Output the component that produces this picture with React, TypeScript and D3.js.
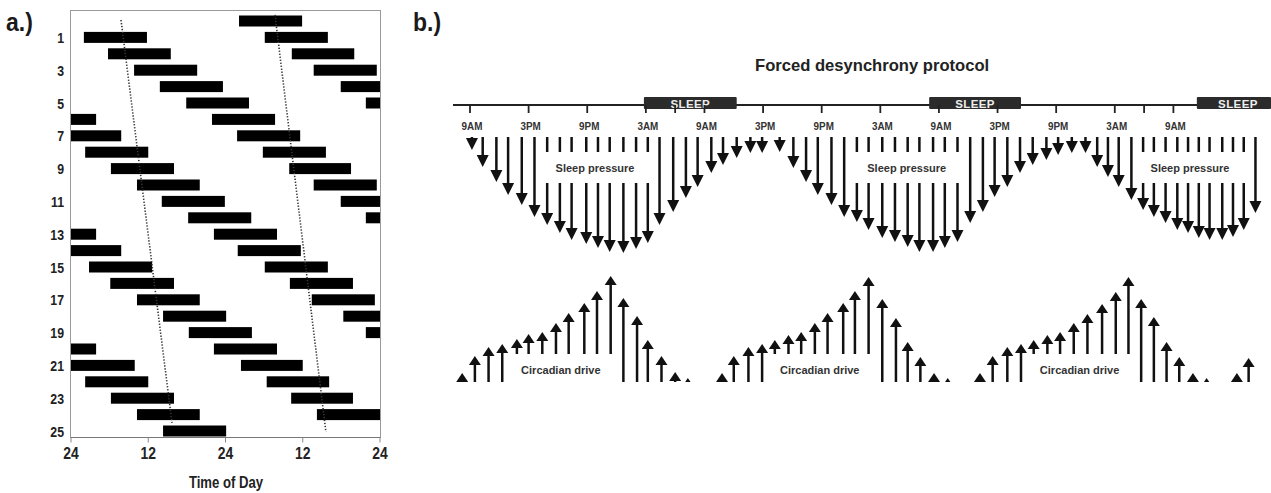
import React from "react";
import * as d3 from "d3";

// ---------- Panel a: double-plotted sleep episodes (hours 0..48 across a row) ----------
const dayLabels = [1, 3, 5, 7, 9, 11, 13, 15, 17, 19, 21, 23, 25];
const timeTickHours = [0, 12, 24, 36, 48];
const timeTickLabels = ["24", "12", "24", "12", "24"];

// each row: list of [start, end] in hours of the 48-h double plot
const rowSleepBars: [number, number][][] = [
  [[26.1, 35.9]],
  [[2.0, 11.8], [30.1, 39.9]],
  [[5.75, 15.5], [34.3, 44.0]],
  [[9.8, 19.6], [37.7, 47.5]],
  [[13.8, 23.6], [41.9, 48]],
  [[17.9, 27.65], [45.8, 48]],
  [[0, 3.9], [21.9, 31.7]],
  [[0, 7.8], [25.8, 35.6]],
  [[2.2, 12.0], [29.8, 39.6]],
  [[6.2, 16.0], [33.9, 43.5]],
  [[10.25, 20.0], [37.7, 47.5]],
  [[14.1, 23.9], [41.9, 48]],
  [[18.2, 28.0], [45.8, 48]],
  [[0, 3.9], [22.2, 32.0]],
  [[0, 7.8], [25.9, 35.7]],
  [[2.8, 12.6], [30.1, 39.9]],
  [[6.1, 16.0], [34.0, 43.8]],
  [[10.25, 20.0], [37.4, 47.2]],
  [[14.3, 24.1], [42.3, 48]],
  [[18.3, 28.1], [45.8, 48]],
  [[0, 3.9], [22.2, 32.0]],
  [[0, 9.9], [26.4, 36.0]],
  [[2.2, 12.0], [30.4, 40.1]],
  [[6.2, 16.0], [34.2, 43.8]],
  [[10.25, 20.0], [38.2, 48]],
  [[14.3, 24.1]],
];

// circadian phase markers: [hour, row] endpoints
const phaseLines: [number, number][][] = [
  [[7.77, -0.06], [15.69, 24.5]],
  [[31.69, -0.37], [39.6, 25.06]],
];

// ---------- Panel b: forced desynchrony protocol ----------
const clockHours = [0, 6, 12, 18, 24, 30, 36, 42, 48, 54, 60, 66, 72];
const clockLabels = ["9AM", "3PM", "9PM", "3AM", "9AM", "3PM", "9PM", "3AM", "9AM", "3PM", "9PM", "3AM", "9AM"];
const extraTickHours = [21, 69];
const sleepEpisodes: [number, number][] = [[17.8, 27.3], [47.0, 56.4], [74.4, 90]];

const pressureHours = [
  0.2, 1.3, 2.7, 3.9, 5.3, 6.6, 7.9, 9.2, 10.4, 11.9, 13.1, 14.3, 15.7, 17.0, 18.2, 19.4,
  20.8, 22.1, 23.3, 24.7, 25.9, 27.3, 28.7, 29.9, 31.7, 33.1, 34.4, 35.6, 37.0, 38.3, 39.6,
  40.8, 42.2, 43.5, 44.8, 46.0, 47.4, 48.6, 49.9, 51.2, 52.5, 53.7, 55.0, 56.3, 57.6, 59.0,
  60.2, 61.6, 63.0, 64.2, 65.3, 66.4, 67.7, 68.9, 70.0, 71.2, 72.4, 73.5, 74.6, 75.7, 77.0,
  78.1, 79.2, 80.4,
];
const pressureValues = [
  13, 30, 45, 58, 68, 80, 88, 96, 103, 107, 111, 115, 116, 112, 106, 88,
  75, 61, 50, 36, 28, 21, 16, 16, 15, 31, 45, 58, 68, 80, 85,
  93, 101, 105, 110, 115, 115, 111, 105, 86, 75, 60, 50, 36, 28, 23,
  18, 16, 16, 30, 40, 50, 63, 73, 80, 86, 93, 96, 101, 103, 103,
  100, 93, 76,
];
const pressureLabelHours = [12.8, 44.7, 73.7];
const pressureLabelSpans: [number, number][] = [[7.5, 18.6], [39.3, 50.2], [68.6, 79.6]];

const drivingHours = [
  -0.8, 0.5, 1.9, 3.3, 4.8, 6.0, 7.4, 8.8, 10.1, 11.7, 13.0, 14.4, 15.7, 17.1, 18.2, 19.6, 21.0, 22.3,
  25.8, 27.0, 28.5, 29.9, 31.2, 32.6, 33.9, 35.3, 36.6, 38.2, 39.4, 40.8, 42.2, 43.6, 44.8, 46.1, 47.5, 48.9,
  52.2, 53.5, 55.0, 56.4, 57.7, 59.1, 60.4, 61.8, 63.2, 64.7, 66.1, 67.4, 68.7, 70.0, 71.3, 72.6, 74.0, 75.4,
  78.5, 79.7,
];
const drivingValues = [
  9, 26, 35, 38, 43, 48, 50, 59, 69, 79, 91, 106, 84, 66, 42, 26, 10, 4,
  9, 26, 35, 38, 42, 47, 50, 59, 69, 79, 91, 105, 83, 64, 40, 25, 9, 4,
  9, 26, 35, 38, 42, 47, 50, 59, 68, 78, 90, 105, 83, 65, 40, 25, 9, 4,
  9, 24,
];
const driveLabelHours = [9.3, 35.8, 62.4];
const driveLabelSpans: [number, number][] = [[4.5, 14.7], [31.0, 41.1], [57.4, 67.7]];

const SANS = "'Liberation Sans', Arial, Helvetica, sans-serif";
const INK = "#111";

// condensed bold text (horizontal squeeze of Liberation Sans Bold)
function NarrowText(props: {
  x: number;
  y: number;
  size: number;
  anchor?: "start" | "middle" | "end";
  squeeze?: number;
  fill?: string;
  children: React.ReactNode;
}) {
  const s = props.squeeze ?? 0.82;
  return (
    <text
      transform={`translate(${props.x},${props.y}) scale(${s},1)`}
      textAnchor={props.anchor ?? "start"}
      fontFamily={SANS}
      fontWeight="bold"
      fontSize={props.size}
      fill={props.fill ?? "#222"}
    >
      {props.children}
    </text>
  );
}

export default function App() {
  // panel a scales
  const xA = d3.scaleLinear().domain([0, 48]).range([71, 380]);
  const yA = d3.scaleLinear().domain([0, 25]).range([21, 431]);
  const barH = 11;
  const frame = { l: 70.5, t: 10.5, r: 380.5, b: 437.5 };

  // panel b scales
  const xB = d3.scaleLinear().domain([0, 72]).range([470, 1173.4]);
  const yP = d3.scaleLinear().domain([0, 120]).range([137, 257]);
  const yC = d3.scaleLinear().domain([0, 120]).range([382, 262]);
  const lineY = 105;
  const phaseLine = d3
    .line<[number, number]>()
    .x((d) => xA(d[0]))
    .y((d) => yA(d[1]));

  const inSpan = (h: number, spans: [number, number][]) => spans.some(([a, b]) => h >= a && h <= b);

  const downArrows = pressureHours.map((h, i) => {
    const x = xB(h);
    const top = yP(0);
    const bottom = yP(pressureValues[i]);
    const headH = 12;
    const headW = 12;
    const broken = inSpan(h, pressureLabelSpans);
    const headTop = Math.max(top, bottom - headH);
    const segs: [number, number][] = [];
    if (headTop > top) {
      if (broken) {
        segs.push([top, 152]);
        segs.push([183, headTop + 1]);
      } else segs.push([top, headTop + 1]);
    }
    const hh = bottom - headTop;
    const w = (headW * hh) / headH;
    return (
      <g key={"d" + i}>
        {segs.map((s, j) => (
          <line key={j} x1={x} x2={x} y1={s[0]} y2={s[1]} stroke={INK} strokeWidth={2.5} />
        ))}
        <path d={`M${x - w / 2},${headTop}L${x + w / 2},${headTop}L${x},${bottom}Z`} fill={INK} />
      </g>
    );
  });

  const upArrows = drivingHours.map((h, i) => {
    const x = xB(h);
    const base = yC(0);
    const top = yC(drivingValues[i]);
    const headH = 9;
    const headW = 12;
    const broken = inSpan(h, driveLabelSpans);
    const headBot = Math.min(base, top + headH);
    const hh = headBot - top;
    const w = (headW * hh) / headH;
    const stemEnd = broken ? 354 : base;
    return (
      <g key={"u" + i}>
        {headBot < base && (
          <line x1={x} x2={x} y1={headBot - 1} y2={stemEnd} stroke={INK} strokeWidth={2.5} />
        )}
        <path d={`M${x - w / 2},${headBot}L${x + w / 2},${headBot}L${x},${top}Z`} fill={INK} />
      </g>
    );
  });

  const allTicks = clockHours.concat(extraTickHours);

  return (
    <svg
      width={1271}
      height={493}
      viewBox="0 0 1271 493"
      style={{ position: "absolute", left: 0, top: 0, background: "#fff" }}
    >
      <rect x={0} y={0} width={1271} height={493} fill="#fff" />

      {/* ---------------- Panel a ---------------- */}
      <NarrowText x={6} y={31} size={25} squeeze={0.92} fill="#1a1a1a">
        a.)
      </NarrowText>
      <rect
        x={frame.l}
        y={frame.t}
        width={frame.r - frame.l}
        height={frame.b - frame.t}
        fill="none"
        stroke="#9a9a9a"
        strokeWidth={1}
      />
      <line x1={frame.l} x2={frame.r} y1={frame.b} y2={frame.b} stroke="#777" strokeWidth={1.2} />
      {timeTickHours.map((h, i) => (
        <g key={"xt" + i}>
          <line x1={xA(h)} x2={xA(h)} y1={frame.b} y2={frame.b + 5} stroke="#888" strokeWidth={1} />
          <NarrowText x={xA(h)} y={459} size={17} anchor="middle">
            {timeTickLabels[i]}
          </NarrowText>
        </g>
      ))}
      <NarrowText x={226} y={488} size={16} anchor="middle">
        Time of Day
      </NarrowText>
      {dayLabels.map((d) => (
        <NarrowText key={"yl" + d} x={64} y={yA(d) + 5.5} size={15} anchor="end">
          {d}
        </NarrowText>
      ))}
      {rowSleepBars.map((bars, r) =>
        bars.map(([s, e], j) => (
          <rect
            key={`b${r}-${j}`}
            x={xA(s)}
            y={yA(r) - barH / 2}
            width={xA(e) - xA(s)}
            height={barH}
            fill="#000"
          />
        ))
      )}
      {phaseLines.map((pts, i) => (
        <path
          key={"pl" + i}
          d={phaseLine(pts) || ""}
          fill="none"
          stroke="#333"
          strokeWidth={1.6}
          strokeDasharray="1.3 1.7"
        />
      ))}

      {/* ---------------- Panel b ---------------- */}
      <NarrowText x={413} y={31} size={25} squeeze={0.92} fill="#1a1a1a">
        b.)
      </NarrowText>
      <text x={755} y={71} fontFamily={SANS} fontWeight="bold" fontSize={16.6} fill="#222">
        Forced desynchrony protocol
      </text>

      <line x1={453} x2={1271} y1={lineY} y2={lineY} stroke="#222" strokeWidth={2} />
      {sleepEpisodes.map(([s, e], i) => {
        const x0 = xB(s);
        const x1 = Math.min(xB(e), 1271);
        const cx = xB(e) > 1271 ? (x0 + 1271 + 8) / 2 : (x0 + x1) / 2;
        return (
          <g key={"se" + i}>
            <rect x={x0} y={97} width={x1 - x0} height={12} fill="#2b2b2b" rx={1} />
            <text
              x={cx}
              y={107.5}
              textAnchor="middle"
              fontFamily={SANS}
              fontWeight="bold"
              fontSize={11.5}
              letterSpacing={0.4}
              fill="#eee"
            >
              SLEEP
            </text>
          </g>
        );
      })}
      {allTicks.map((h, i) => (
        <line key={"ct" + i} x1={xB(h)} x2={xB(h)} y1={lineY} y2={lineY + 8} stroke="#222" strokeWidth={1.8} />
      ))}
      {clockHours.map((h, i) => (
        <NarrowText key={"cl" + i} x={xB(h) + 2} y={130} size={11.5} anchor="middle" squeeze={0.86} fill="#333">
          {clockLabels[i]}
        </NarrowText>
      ))}

      {downArrows}
      {pressureLabelHours.map((h, i) => (
        <text
          key={"spl" + i}
          x={xB(h)}
          y={172}
          textAnchor="middle"
          fontFamily={SANS}
          fontWeight="bold"
          fontSize={11}
          fill="#333"
        >
          Sleep pressure
        </text>
      ))}

      {upArrows}
      {driveLabelHours.map((h, i) => (
        <text
          key={"cdl" + i}
          x={xB(h)}
          y={374}
          textAnchor="middle"
          fontFamily={SANS}
          fontWeight="bold"
          fontSize={11}
          fill="#333"
        >
          Circadian drive
        </text>
      ))}
    </svg>
  );
}
